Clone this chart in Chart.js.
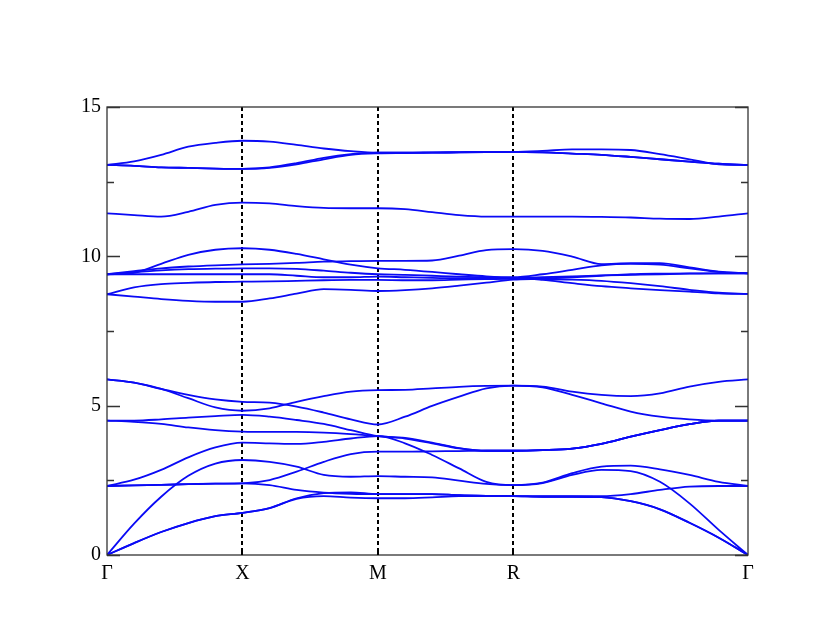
<!DOCTYPE html>
<html>
<head>
<meta charset="utf-8">
<script src="https://cdn.jsdelivr.net/npm/chart.js@4"></script>
<style>
  body { margin: 0; background: #fff; }
</style>
</head>
<body>
<canvas id="myChart" width="830" height="642"></canvas>
<script>
// k-path: high symmetry points and sample positions
const kNodes = [0, 0.5, 1.0, 1.5, 2.366];
const kLabels = ['Γ', 'X', 'M', 'R', 'Γ'];
const kPath = [0, 0.1, 0.2, 0.3, 0.4, 0.5, 0.6, 0.7, 0.8, 0.9, 1.0, 1.1, 1.2, 1.3, 1.4, 1.5,
  1.608, 1.717, 1.825, 1.933, 2.041, 2.15, 2.258, 2.366];
const yTicks = [0, 5, 10, 15];

// frequency bands
const ta1  = [0, 0.4, 0.77, 1.07, 1.3, 1.41, 1.57, 1.9, 2.07, 2.1, 2.04, 2.04, 2.04, 2.0, 1.98, 1.97, 1.95, 1.95, 1.94, 1.8, 1.53, 1.08, 0.58, 0];
const ta2  = [0, 0.4, 0.77, 1.07, 1.3, 1.41, 1.57, 1.88, 1.97, 1.92, 1.9, 1.9, 1.93, 1.97, 1.97, 1.97, 1.95, 1.95, 1.94, 1.8, 1.53, 1.08, 0.58, 0];
const la   = [0, 1.05, 1.95, 2.65, 3.06, 3.18, 3.12, 2.96, 2.68, 2.62, 2.64, 2.62, 2.6, 2.49, 2.38, 2.34, 2.41, 2.68, 2.85, 2.81, 2.45, 1.73, 0.84, 0];
const opt1 = [2.31, 2.33, 2.35, 2.37, 2.39, 2.4, 2.51, 2.79, 3.12, 3.38, 3.46, 3.46, 3.47, 3.48, 3.49, 3.49, 3.51, 3.56, 3.72, 3.96, 4.18, 4.38, 4.5, 4.5];
const opt2 = [2.31, 2.33, 2.35, 2.37, 2.39, 2.4, 2.34, 2.18, 2.09, 2.05, 2.04, 2.04, 2.04, 2.0, 1.98, 1.97, 1.97, 1.97, 1.97, 2.04, 2.18, 2.29, 2.31, 2.31];
const opt3 = [2.31, 2.52, 2.85, 3.27, 3.6, 3.76, 3.74, 3.72, 3.79, 3.9, 3.98, 3.74, 3.35, 2.9, 2.45, 2.34, 2.42, 2.74, 2.96, 2.99, 2.87, 2.68, 2.45, 2.31];
const opt4 = [4.5, 4.46, 4.39, 4.27, 4.18, 4.13, 4.12, 4.12, 4.1, 4.05, 3.98, 3.9, 3.74, 3.57, 3.49, 3.49, 3.51, 3.56, 3.72, 3.96, 4.18, 4.38, 4.5, 4.5];
const opt5 = [4.5, 4.5, 4.54, 4.6, 4.65, 4.69, 4.63, 4.52, 4.39, 4.18, 3.98, 3.92, 3.76, 3.58, 3.49, 3.49, 3.51, 3.56, 3.72, 3.96, 4.18, 4.38, 4.5, 4.5];
const opt6 = [5.88, 5.77, 5.56, 5.36, 5.21, 5.13, 5.1, 4.97, 4.77, 4.54, 4.37, 4.63, 4.99, 5.3, 5.58, 5.67, 5.64, 5.47, 5.36, 5.32, 5.41, 5.64, 5.8, 5.88];
const opt7 = [5.88, 5.77, 5.56, 5.25, 4.94, 4.83, 4.91, 5.13, 5.32, 5.47, 5.52, 5.53, 5.58, 5.63, 5.66, 5.67, 5.61, 5.36, 5.08, 4.8, 4.63, 4.54, 4.5, 4.5];
const mid1 = [9.4, 9.45, 9.75, 10.05, 10.22, 10.27, 10.22, 10.08, 9.9, 9.72, 9.6, 9.55, 9.48, 9.4, 9.33, 9.3, 9.4, 9.55, 9.7, 9.75, 9.72, 9.6, 9.48, 9.43];
const mid2 = [9.4, 9.5, 9.6, 9.66, 9.7, 9.73, 9.75, 9.78, 9.82, 9.84, 9.85, 9.85, 9.86, 10.02, 10.21, 10.24, 10.18, 9.99, 9.74, 9.77, 9.77, 9.63, 9.49, 9.43];
const mid3 = [9.4, 9.47, 9.53, 9.57, 9.59, 9.6, 9.6, 9.58, 9.52, 9.45, 9.4, 9.38, 9.35, 9.32, 9.3, 9.28, 9.3, 9.33, 9.36, 9.38, 9.4, 9.42, 9.43, 9.43];
const mid4 = [9.4, 9.4, 9.4, 9.4, 9.4, 9.4, 9.4, 9.35, 9.3, 9.3, 9.32, 9.3, 9.28, 9.27, 9.27, 9.27, 9.21, 9.1, 9.0, 8.93, 8.87, 8.82, 8.76, 8.74];
const mid5 = [8.73, 8.96, 9.07, 9.11, 9.14, 9.15, 9.16, 9.18, 9.2, 9.21, 9.21, 9.2, 9.2, 9.22, 9.24, 9.25, 9.24, 9.22, 9.18, 9.1, 9.0, 8.88, 8.78, 8.74];
const mid6 = [8.73, 8.65, 8.57, 8.51, 8.48, 8.48, 8.59, 8.75, 8.9, 8.88, 8.84, 8.87, 8.93, 9.02, 9.12, 9.22, 9.25, 9.3, 9.35, 9.4, 9.42, 9.43, 9.43, 9.43];
const up1  = [11.44, 11.38, 11.33, 11.49, 11.72, 11.8, 11.77, 11.68, 11.62, 11.61, 11.61, 11.58, 11.48, 11.38, 11.33, 11.33, 11.33, 11.33, 11.32, 11.3, 11.26, 11.25, 11.33, 11.44];
const top1 = [13.06, 13.18, 13.4, 13.67, 13.8, 13.87, 13.84, 13.73, 13.61, 13.52, 13.47, 13.47, 13.48, 13.49, 13.5, 13.5, 13.53, 13.58, 13.58, 13.56, 13.42, 13.25, 13.08, 13.06];
const top2 = [13.06, 13.03, 12.98, 12.96, 12.94, 12.93, 12.96, 13.08, 13.25, 13.4, 13.45, 13.46, 13.47, 13.48, 13.49, 13.5, 13.48, 13.44, 13.4, 13.33, 13.25, 13.17, 13.1, 13.06];
const top3 = [13.06, 13.03, 12.98, 12.96, 12.94, 12.93, 12.98, 13.12, 13.3, 13.42, 13.47, 13.47, 13.47, 13.48, 13.49, 13.5, 13.48, 13.44, 13.4, 13.33, 13.25, 13.17, 13.1, 13.06];

const bands = [ta1, ta2, la, opt1, opt2, opt3, opt4, opt5, opt6, opt7,
  mid1, mid2, mid3, mid4, mid5, mid6, up1, top1, top2, top3];

const datasets = bands.map(b => ({
  data: b.map((v, i) => ({ x: kPath[i], y: v })),
  borderColor: 'rgb(10, 10, 245)',
  borderWidth: 1.8,
  pointRadius: 0,
  showLine: true,
  fill: false,
  cubicInterpolationMode: 'monotone'
}));

// dashed verticals, box frame and inward ticks
const framePlugin = {
  id: 'frame',
  beforeDatasetsDraw(chart) {
    const { ctx, chartArea: a, scales: { x } } = chart;
    ctx.save();
    ctx.strokeStyle = '#000';
    ctx.lineWidth = 2;
    ctx.setLineDash([4, 3]);
    kNodes.slice(1, 4).forEach(k => {
      const px = Math.round(x.getPixelForValue(k));
      ctx.beginPath();
      ctx.moveTo(px, a.top);
      ctx.lineTo(px, a.bottom);
      ctx.stroke();
    });
    ctx.restore();
  },
  afterDatasetsDraw(chart) {
    const { ctx, chartArea: a, scales: { x, y } } = chart;
    ctx.save();
    ctx.strokeStyle = '#333';
    ctx.lineWidth = 1.3;
    ctx.strokeRect(a.left, a.top, a.right - a.left, a.bottom - a.top);
    for (let v = 0; v <= 15; v += 2.5) {
      const py = Math.round(y.getPixelForValue(v)) + 0.5;
      const len = v % 5 === 0 ? 13 : 7;
      ctx.beginPath();
      ctx.moveTo(a.left, py); ctx.lineTo(a.left + len, py);
      ctx.moveTo(a.right, py); ctx.lineTo(a.right - len, py);
      ctx.stroke();
    }
    ctx.strokeStyle = '#000';
    ctx.lineWidth = 2;
    kNodes.slice(1, 4).forEach(k => {
      const px = Math.round(x.getPixelForValue(k));
      ctx.beginPath();
      ctx.moveTo(px, a.bottom); ctx.lineTo(px, a.bottom - 7);
      ctx.stroke();
    });
    ctx.restore();
  }
};

const config = {
  type: 'scatter',
  data: { datasets },
  options: {
    responsive: false,
    animation: false,
    layout: { padding: { top: 107, right: 82, left: 0, bottom: 0 } },
    plugins: { legend: { display: false }, tooltip: { enabled: false } },
    scales: {
      x: {
        type: 'linear',
        min: 0,
        max: 2.366,
        afterBuildTicks: s => { s.ticks = kNodes.map(v => ({ value: v })); },
        afterFit: s => { s.height = 87; },
        grid: { display: false, drawTicks: false },
        border: { display: false },
        ticks: {
          autoSkip: false,
          maxRotation: 0,
          padding: 7,
          color: '#000',
          font: { family: 'Liberation Serif', size: 20 },
          callback: (v, i) => kLabels[i]
        }
      },
      y: {
        min: 0,
        max: 15,
        afterBuildTicks: s => { s.ticks = yTicks.map(v => ({ value: v })); },
        afterFit: s => { s.width = 107; },
        grid: { display: false, drawTicks: false },
        border: { display: false },
        ticks: {
          padding: 6,
          color: '#000',
          font: { family: 'Liberation Serif', size: 20 }
        }
      }
    }
  },
  plugins: [framePlugin]
};

const myChart = new Chart(document.getElementById('myChart'), config);
</script>
</body>
</html>
